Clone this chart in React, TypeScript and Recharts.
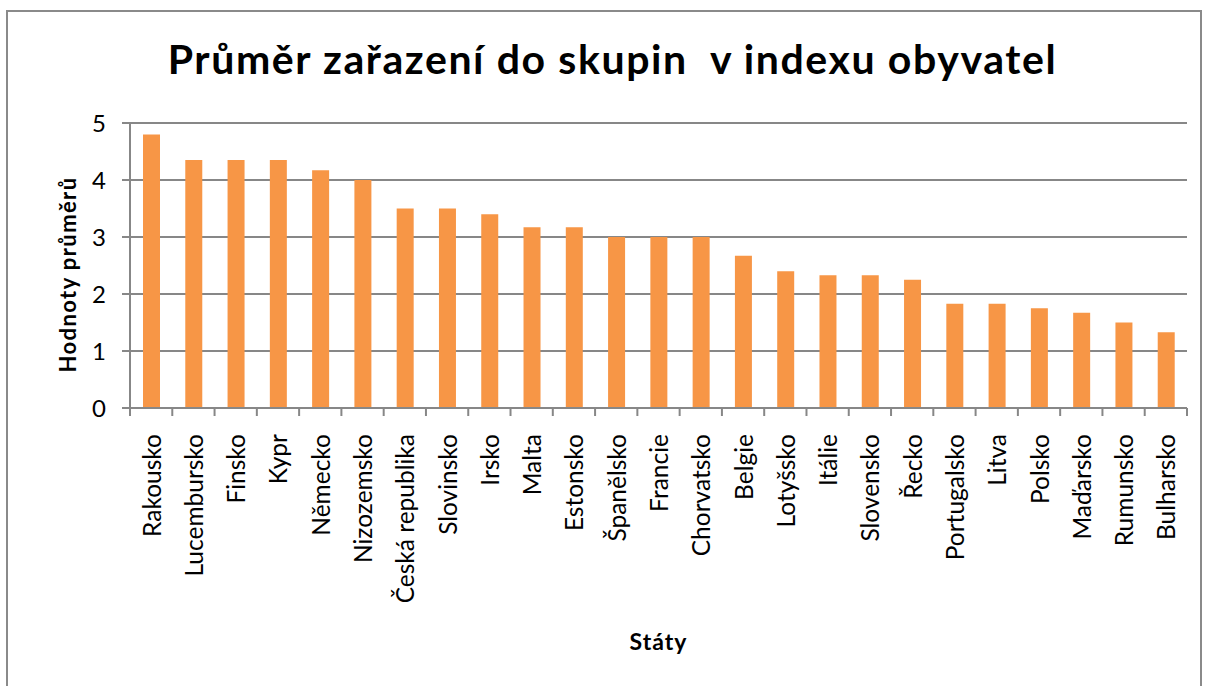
import { BarChart, Bar, XAxis, YAxis, CartesianGrid } from 'recharts';

const COUNTRIES = [
  'Rakousko', 'Lucembursko', 'Finsko', 'Kypr', 'Německo', 'Nizozemsko',
  'Česká republika', 'Slovinsko', 'Irsko', 'Malta', 'Estonsko', 'Španělsko',
  'Francie', 'Chorvatsko', 'Belgie', 'Lotyšsko', 'Itálie', 'Slovensko',
  'Řecko', 'Portugalsko', 'Litva', 'Polsko', 'Maďarsko', 'Rumunsko', 'Bulharsko'
];
const AVERAGES = [
  4.8, 4.35, 4.35, 4.35, 4.17, 4.0,
  3.5, 3.5, 3.4, 3.17, 3.17, 3.0,
  3.0, 3.0, 2.67, 2.4, 2.33, 2.33,
  2.25, 1.83, 1.83, 1.75, 1.67, 1.5, 1.33
];
const Y_TICKS = [0, 1, 2, 3, 4, 5];

const data = COUNTRIES.map((name, i) => ({ name, value: AVERAGES[i] }));

const FONT = 'Lato, "Open Sans", sans-serif';
const GRID = '#878787';

// Excel puts the x tick marks between categories, so draw them by hand
function CountryTick(props: any) {
  const { x, y, payload, index, width, visibleTicksCount } = props;
  const band = width / (visibleTicksCount || COUNTRIES.length);
  const left = x - band / 2;
  return (
    <g>
      <line x1={left} y1={y - 8} x2={left} y2={y} stroke={GRID} strokeWidth={2} />
      {index === COUNTRIES.length - 1 && (
        <line x1={left + band} y1={y - 8} x2={left + band} y2={y} stroke={GRID} strokeWidth={2} />
      )}
      <text
        transform={`translate(${x},${y + 18}) rotate(-90)`}
        textAnchor="end"
        dominantBaseline="central"
        fontSize={24.5}
        fill="#000"
        fontFamily={FONT}
      >
        {payload.value}
      </text>
    </g>
  );
}

function YTitle(props: any) {
  const { viewBox } = props;
  const cx = 67;
  const cy = viewBox.y + viewBox.height / 2 + 9;
  return (
    <text
      transform={`translate(${cx},${cy}) rotate(-90)`}
      textAnchor="middle"
      dominantBaseline="central"
      fontFamily={FONT}
      fontWeight={700}
      fontSize={22}
      letterSpacing={1.4}
      fill="#000"
    >
      Hodnoty průměrů
    </text>
  );
}

export default function App() {
  return (
    <div style={{ position: 'absolute', left: 0, top: 0, width: 1205, height: 686, background: '#fff', overflow: 'hidden' }}>
      <div
        style={{
          position: 'absolute', left: 6, top: 10, width: 1196, height: 700,
          border: '2px solid #8a8a8a', boxSizing: 'border-box'
        }}
      />
      <div
        style={{
          position: 'absolute', left: 0, top: 34, width: 1225, textAlign: 'center',
          fontFamily: FONT, fontWeight: 700, fontSize: 41, letterSpacing: 1.6, color: '#000', whiteSpace: 'pre'
        }}
      >
        {'Průměr zařazení do skupin  v indexu obyvatel'}
      </div>
      <div style={{ position: 'absolute', left: 0, top: 0 }}>
        <BarChart
          width={1205}
          height={686}
          data={data}
          margin={{ top: 123, right: 18, left: 0, bottom: 0 }}
          barCategoryGap={0}
        >
          <CartesianGrid vertical={false} stroke={GRID} strokeWidth={2} horizontalValues={Y_TICKS} />
          <XAxis
            dataKey="name"
            interval={0}
            height={278}
            axisLine={{ stroke: GRID, strokeWidth: 2 }}
            tickLine={false}
            tick={<CountryTick />}
            label={{ value: 'Státy', position: 'insideBottom', offset: 36, fontFamily: FONT, fontWeight: 700, fontSize: 23, letterSpacing: 1, fill: '#000' }}
          />
          <YAxis
            width={130}
            domain={[0, 5]}
            ticks={Y_TICKS}
            interval={0}
            axisLine={{ stroke: GRID, strokeWidth: 2 }}
            tickLine={{ stroke: GRID, strokeWidth: 2 }}
            tickSize={8}
            tickMargin={16}
            tick={{ fontSize: 24, fill: '#000', fontFamily: FONT }}
            label={<YTitle />}
          />
          <Bar dataKey="value" fill="#F79646" barSize={17} isAnimationActive={false} />
        </BarChart>
      </div>
    </div>
  );
}
